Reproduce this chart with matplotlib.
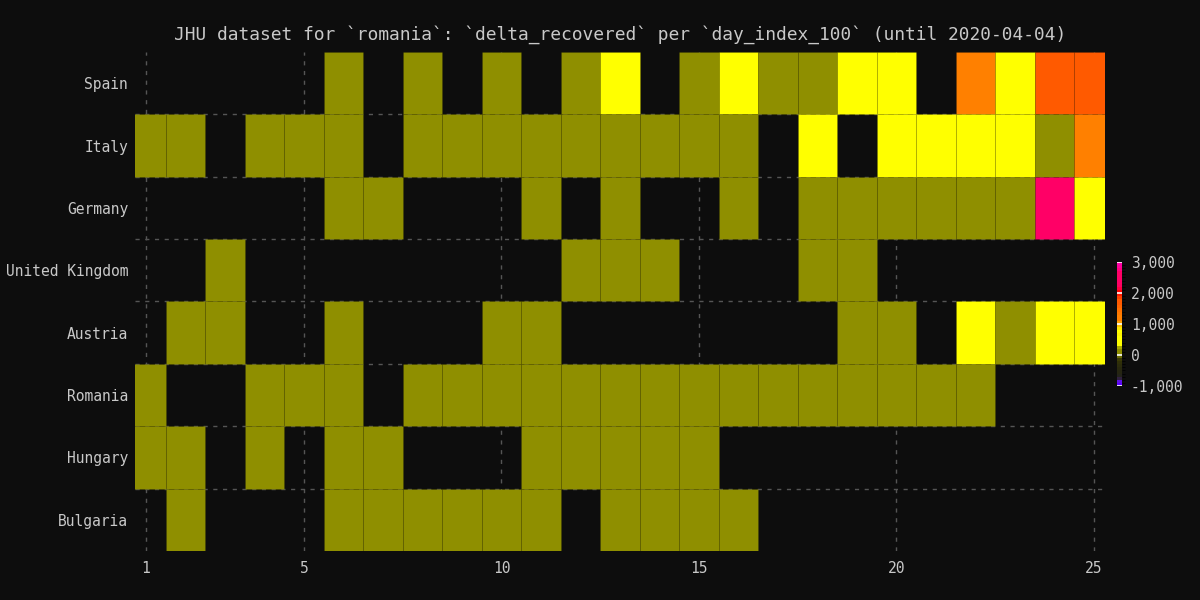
import numpy as np
import matplotlib
matplotlib.use('Agg')
import matplotlib.pyplot as plt
from matplotlib.colors import ListedColormap, BoundaryNorm
from matplotlib.ticker import FuncFormatter

N = None
days = list(range(1, 26))
countries = ['Spain', 'Italy', 'Germany', 'United Kingdom', 'Austria', 'Romania', 'Hungary', 'Bulgaria']

spain = [N, N, N, N, N, 40, N, 30, N, 50, N, 60, 500, N, 150, 550, 120, 180, 720, 580, N, 1200, 780, 1700, 1750]
italy = [50, 60, N, 40, 80, 100, N, 60, 120, 150, 190, 180, 100, 170, 160, 185, N, 550, N, 520, 720, 750, 780, 195, 1200]
germany = [N, N, N, N, N, 20, 30, N, N, N, 15, N, 40, N, N, 50, N, 100, 120, 150, 160, 170, 180, 2500, 700]
uk = [N, N, 10, N, N, N, N, N, N, N, N, 10, 20, 15, N, N, N, 50, 40, N, N, N, N, N, N]
austria = [N, 5, 10, N, N, 20, N, N, N, 30, 40, N, N, N, N, N, N, N, 100, 150, N, 400, 190, 500, 550]
romania = [5, N, N, 10, 20, 15, N, 25, 30, 35, 40, 50, 45, 60, 55, 70, 80, 90, 100, 110, 120, 130, N, N, N]
hungary = [2, 3, N, 4, N, 5, 6, N, N, N, 7, 8, 9, 10, 11, N, N, N, N, N, N, N, N, N, N]
bulgaria = [N, 1, N, N, N, 2, 3, 4, 5, 6, 7, N, 8, 9, 10, 11, N, N, N, N, N, N, N, N, N]

rows = [spain, italy, germany, uk, austria, romania, hungary, bulgaria]

# banded colour scale, 100 per band
bounds = list(range(-1000, 3001, 100))
band_colors = ['#5a00ff', '#6010e8', '#302040', '#24241a', '#262612', '#28280e', '#2c2c0c', '#303008',
               '#3a3a06', '#6a6a00', '#8f8f00', '#8f8f00', '#a8a800', '#ffff00', '#ffff00', '#ffff00',
               '#fff400', '#ffff00', '#ffe800', '#ffc000', '#ffa000', '#ff8000', '#ff8000', '#ff7800',
               '#ff7000', '#ff6400', '#ff5a00', '#ff5a00', '#ff4000', '#ff1a00', '#ff0000', '#ff0040',
               '#ff0060', '#ff0066', '#ff0066', '#ff0066', '#ff0066', '#ff0080', '#ff0099', '#ff00aa']
cmap = ListedColormap(band_colors)
norm = BoundaryNorm(bounds, cmap.N)

bg = '#0d0d0d'
fg = '#c8c8c8'
plt.rcParams['font.family'] = ['DejaVu Sans Mono']

fig = plt.figure(figsize=(12, 6), dpi=100, facecolor=bg)
ax = fig.add_axes([0.1125, 0.0817, 0.8083, 0.8316], facecolor=bg)

for i, r in enumerate(rows):
    for d, v in zip(days, r):
        if v is None:
            continue
        ax.bar(d, 1, bottom=i - 0.5, width=1, color=cmap(norm(v)),
               edgecolor=(0, 0, 0, 0.08), linewidth=0.6, zorder=2)

ax.set_xlim(0.72, 25.28)
ax.set_ylim(len(countries) - 0.5, -0.5)
ax.set_xticks([1, 5, 10, 15, 20, 25])
ax.set_yticks(range(len(countries)))
ax.set_yticklabels(countries)
ax.set_yticks(np.arange(0.5, len(countries) - 1, 1), minor=True)
ax.tick_params(which='both', length=0, colors=fg, labelsize=10.5)
ax.tick_params(axis='y', pad=5)
ax.tick_params(axis='x', pad=7)
ax.grid(axis='x', which='major', color='#555555', ls=(0, (3, 4)), lw=1, zorder=0)
ax.grid(axis='y', which='minor', color='#555555', ls=(0, (3, 4)), lw=1, zorder=0)
for s in ax.spines.values():
    s.set_visible(False)
ax.set_title('JHU dataset for `romania`: `delta_recovered` per `day_index_100` (until 2020-04-04)',
             color=fg, fontsize=12.9, pad=9)

cax = fig.add_axes([0.9308, 0.3567, 0.0045, 0.2067])
sm = plt.cm.ScalarMappable(cmap=cmap, norm=norm)
cb = fig.colorbar(sm, cax=cax, ticks=[-1000, 0, 1000, 2000, 3000])
cb.outline.set_visible(False)
cb.ax.yaxis.set_major_formatter(FuncFormatter(lambda v, p: f'{int(v):,}'))
cb.ax.tick_params(length=0, colors=fg, labelsize=10.5, pad=6)
for t in [-1000, 0, 1000, 2000, 3000]:
    cb.ax.axhline(t, color='white', lw=1.2)

plt.savefig('out.png', facecolor=bg)
